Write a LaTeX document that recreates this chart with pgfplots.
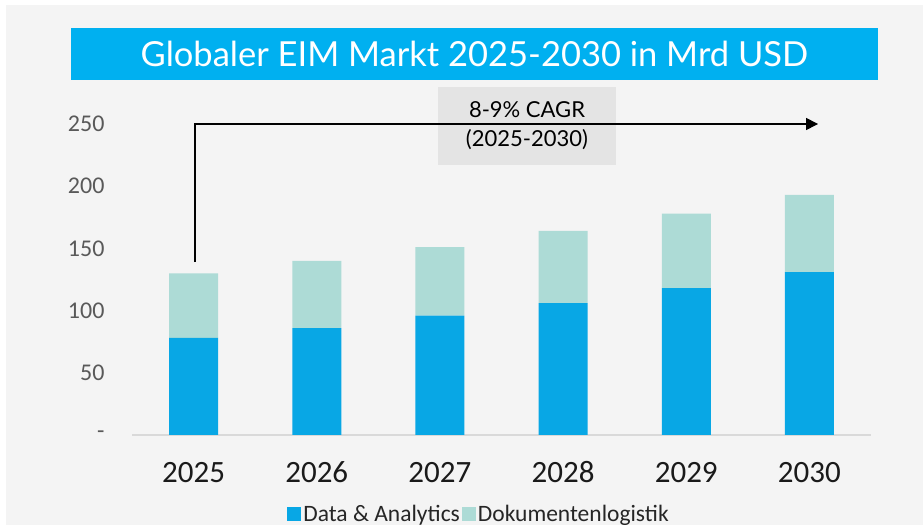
\documentclass[border=0pt]{standalone}
\usepackage{fontspec}
\setmainfont{Carlito}
\newfontfamily\latofont{Lato}
\usepackage{pgfplots}
\pgfplotsset{compat=1.18}
\usetikzlibrary{arrows.meta}

\definecolor{panel}{HTML}{F4F4F4}
\definecolor{titlebox}{HTML}{00B0F0}
\definecolor{dablue}{HTML}{08A7E5}
\definecolor{doklog}{HTML}{ADDBD6}
\definecolor{notebox}{HTML}{E4E4E4}
\definecolor{ticky}{HTML}{595959}
\definecolor{tickx}{HTML}{1A1A1A}
\definecolor{legtext}{HTML}{262626}
\definecolor{baseline}{HTML}{D9D9D9}

\begin{document}
\begin{tikzpicture}
% page frame, 1px = 1pt
\fill[white] (0pt,0pt) rectangle (923pt,526pt);
\fill[panel] (6pt,1pt) rectangle (923pt,521pt);
% title
\fill[titlebox] (71pt,446pt) rectangle (878pt,498pt);
\node[text=white, font=\latofont\fontsize{34.5}{40}\selectfont] at (474.5pt,472pt)
  {Globaler EIM Markt 2025-2030 in Mrd USD};

\begin{axis}[
    at={(132pt,91pt)}, anchor=south west,
    scale only axis, width=739pt, height=311pt,
    ybar stacked, bar width=49pt,
    xmin=-0.5, xmax=5.5, ymin=0, ymax=250,
    enlargelimits=false, clip=false,
    xtick=data,
    xticklabels={2025,2026,2027,2028,2029,2030},
    ytick={0,50,100,150,200,250},
    yticklabels={-,50,100,150,200,250},
    /pgf/number format/assume math mode=true,
    major tick length=0pt,
    separate axis lines,
    axis x line*=bottom, axis y line*=left,
    x axis line style={draw=baseline, line width=1.5pt},
    y axis line style={draw=none},
    xticklabel style={font=\fontsize{31}{36}\selectfont, text=tickx, anchor=base, yshift=-48pt},
    yticklabel style={font=\fontsize{24}{28}\selectfont, text=ticky, anchor=east, xshift=-24pt},
    legend columns=-1,
    legend style={at={(0.4696,-0.254)}, anchor=center, draw=none, fill=none,
      font=\fontsize{23.5}{28}\selectfont, text=legtext},
    legend image code/.code={\fill[#1] (0pt,-7pt) rectangle (14pt,7pt);},
  ]
  \addplot[fill=dablue, draw=none] coordinates {(0,78) (1,86) (2,96) (3,106) (4,118) (5,131)};
  \addplot[fill=doklog, draw=none] coordinates {(0,52) (1,54) (2,55) (3,58) (4,60) (5,62)};
  \legend{Data \& Analytics, Dokumentenlogistik}

  % CAGR arrow and note
  \draw[line width=1.5pt, -{Triangle[length=12pt,width=12pt]}]
    (axis cs:0.01,139) |- (axis cs:5.07,250);
  \node[fill=notebox, minimum width=177pt, minimum height=78pt, align=center,
    font=\latofont\fontsize{22}{29}\selectfont] at (axis cs:2.707,248.4)
    {8-9\% CAGR\\(2025-2030)};
\end{axis}
\end{tikzpicture}
\end{document}
